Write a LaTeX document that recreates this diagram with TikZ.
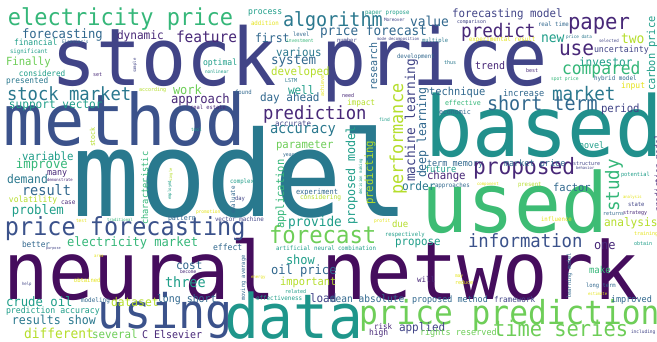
\documentclass[tikz,border=0pt]{standalone}
\usepackage{fontspec}
\usepackage{graphicx}
\newfontfamily\wcfont{DejaVu Sans Mono}
\definecolor{c0}{HTML}{450D5D}
\definecolor{c1}{HTML}{482878}
\definecolor{c2}{HTML}{414487}
\definecolor{cB}{HTML}{3B528B}
\definecolor{c3}{HTML}{31688E}
\definecolor{c4}{HTML}{2A788E}
\definecolor{cM}{HTML}{29798E}
\definecolor{cD}{HTML}{21908C}
\definecolor{cT}{HTML}{1F968B}
\definecolor{c5}{HTML}{1F9E89}
\definecolor{c6}{HTML}{35B779}
\definecolor{cU}{HTML}{3DBC74}
\definecolor{c7}{HTML}{6ECE58}
\definecolor{c8}{HTML}{B5DE2B}
\definecolor{c9}{HTML}{E5E419}
\newcommand\wcsz[1]{\wcfont\fontsize{#1}{#1}\selectfont}
\newcommand\wcst[1]{\scalebox{1}[1.06]{#1}}
\newcommand\wcw[6]{\node[wrd,text=#5,font=\wcsz{#4}] (#1) at (#2,#3) {\wcst{#6}};}
\newcommand\wcv[6]{\node[wrd,rotate=90,text=#5,font=\wcsz{#4}] (#1) at (#2,#3) {\wcst{#6}};}
\begin{document}
\begin{tikzpicture}[x=1pt,y=-1pt,wrd/.style={anchor=base west,inner sep=0pt,outer sep=0pt}]
\fill[white] (0,0) rectangle (657,342);
\useasboundingbox (0,0) rectangle (657,342);
\clip (0,0) rectangle (657,342);
% big words
\wcw{h14}{51}{86}{75}{c2}{stock price}
\wcw{h72}{4}{146}{67}{cB}{method}
\wcw{h84}{72}{217}{112}{cM}{model}
\wcw{h108}{425}{157}{79}{cD}{based}
\wcw{h122}{421}{233}{78}{cU}{used}
\wcw{h138}{3}{300}{75.5}{c0}{neural network}
\wcw{h154}{224}{338}{58}{cT}{data}
\wcw{h139}{97}{328}{45}{cB}{using}
\wcw{h123}{5}{236}{23.5}{cB}{price forecasting}
\wcw{h168}{359}{325}{31.2}{c7}{price prediction}
\wcw{h155}{269}{244}{22.3}{c7}{forecast}
\wcw{h158}{468}{248}{17.3}{cB}{information}
\wcw{h178}{493}{337}{20.4}{c7}{time series}
% top left
\wcw{h1}{8}{26}{22}{c6}{electricity price}
\wcw{h2}{22}{39}{12.2}{c3}{forecasting}
\wcw{h3}{117}{40}{11.1}{c1}{dynamic}
\wcw{h4}{14}{45.5}{8}{c5}{financial}
\wcw{h5}{62}{44}{4.4}{c3}{Elsevier's}
\wcw{h6}{10}{54}{5.7}{c5}{significant}
\wcw{h7}{6}{66}{10.6}{c7}{Finally}
\wcw{h8}{19}{77}{7.7}{c5}{considered}
\wcw{h9}{93}{77}{5}{c1}{set}
\wcw{h10}{6}{84}{7.8}{c4}{presented}
\wcw{h11}{139}{92}{5}{c8}{according}
\wcw{h12}{7}{101}{17.2}{c4}{stock market}
\wcw{h13}{9}{109}{11.1}{c5}{support vector}
% top middle
\wcw{h15}{248}{15}{8.1}{c5}{process}
\wcw{h16}{251}{26}{5.8}{c9}{addition}
\wcw{h17}{283}{27}{18.4}{c4}{algorithm}
\wcw{h18}{176}{43}{14.5}{c1}{feature}
\wcw{h19}{255}{43}{11.5}{c3}{first}
\wcw{h20}{293}{37}{5.5}{c3}{level}
\wcw{h21}{286}{43}{4.6}{c6}{investment}
\wcw{h22}{276}{57}{10.8}{c4}{various}
\wcw{h23}{271}{65}{12.5}{c3}{system}
\wcw{h24}{203}{66}{8.1}{c5}{optimal}
\wcw{h25}{205}{74}{4.4}{c5}{nonlinear}
\wcw{h26}{271}{76}{10.8}{c8}{developed}
\wcw{h27}{285}{83}{5}{c4}{LSTM}
\wcw{h28}{173}{95}{12}{c7}{work}
\wcw{h29}{235}{95}{5.6}{c3}{found}
\wcw{h30}{288}{95}{11}{c5}{well}
\wcw{h31}{171}{104}{12.2}{c1}{approach}
\wcw{h32}{260}{101.5}{11}{c3}{day ahead}
\wcw{h33}{190}{110}{5.4}{c1}{real estate}
\wcw{h34}{263}{120}{17.2}{c1}{prediction}
% top right
\wcw{h35}{365}{15}{5.7}{c5}{paper propose}
\wcw{h36}{384}{22}{4.3}{c2}{Moreover}
\wcw{h37}{410}{27}{12.9}{c3}{value}
\wcw{h38}{452}{18}{10.8}{c2}{forecasting model}
\wcw{h39}{457}{24}{4.8}{c2}{comparison}
\wcw{h40}{461}{38}{17.7}{c1}{predict}
\wcw{h41}{337}{43}{5.5}{c2}{number}
\wcw{h42}{377}{41}{3.9}{c2}{mode decomposition}
\wcw{h43}{422}{43}{5.4}{c4}{multiple}
\wcw{h44}{320}{36}{12.7}{c3}{price forecast}
\wcw{h45}{469}{42}{5.8}{c9}{experimental result}
\wcw{h46}{397}{59}{5.7}{c3}{development}
\wcw{h47}{444}{65}{5}{c4}{thus}
\wcw{h48}{475}{70}{10}{c1}{trend}
\wcw{h49}{429}{96}{10.4}{c3}{technique}
\wcw{h50}{342}{98}{5}{c1}{need}
\wcw{h51}{347}{106}{7.8}{c8}{impact}
\wcw{h52}{445}{106}{6.6}{c6}{effective}
\wcw{h53}{439}{115}{6.6}{c3}{economic}
\wcw{h54}{538}{27}{5.7}{c3}{real time}
\wcw{h55}{568}{30}{20.6}{c1}{paper}
\wcw{h56}{541}{43}{13}{c5}{new}
\wcw{h57}{566}{39}{4.3}{c4}{price data}
\wcw{h58}{621}{44}{13}{c8}{two}
\wcw{h59}{599}{43}{4.1}{c2}{selected}
\wcw{h60}{559}{56}{19.5}{c1}{use}
\wcw{h61}{594}{53}{8.3}{c2}{uncertainty}
\wcw{h62}{526}{73}{5}{c1}{best}
\wcw{h63}{579}{67}{11.1}{c5}{investor}
\wcw{h64}{562}{75}{16.3}{c6}{compared}
\wcw{h65}{551}{81}{4.6}{c6}{spot price}
\wcw{h66}{594}{81}{5.9}{c3}{hybrid model}
\wcw{h67}{621}{89}{8}{c9}{input}
\wcw{h68}{552}{101}{17.6}{c4}{market}
\wcw{h69}{503}{97}{8.6}{c3}{increase}
\wcw{h70}{487}{111}{18.4}{c3}{short term}
\wcw{h71}{601}{113}{10.7}{c2}{period}
% middle left
\wcw{h73}{22}{161}{10.7}{c5}{variable}
\wcw{h74}{16}{169}{12.3}{c6}{improve}
\wcw{h75}{7}{184}{11.3}{c4}{demand}
\wcw{h76}{47}{176}{8.4}{c1}{many}
\wcw{h77}{47}{182}{3.9}{c1}{demonstrate}
\wcw{h78}{22}{196}{13.6}{c3}{result}
\wcw{h79}{9}{203}{8}{c8}{volatility}
\wcw{h80}{61}{205}{6}{c1}{case}
\wcw{h81}{12}{215}{12.3}{c5}{problem}
\wcw{h82}{76}{223}{4.5}{c9}{test}
\wcw{h83}{107}{222}{3.9}{c6}{traditional}
% middle
\wcw{h85}{191}{132}{4.5}{c5}{tool}
\wcw{h86}{275}{127}{7.5}{c2}{accurate}
\wcw{h87}{270}{134}{13.7}{c4}{accuracy}
\wcw{h88}{276}{149}{10.6}{c7}{parameter}
\wcw{h89}{283}{157}{4.8}{c3}{year}
\wcw{h90}{230}{184}{5.7}{c5}{complex}
\wcw{h91}{235}{201}{5.5}{c2}{day}
\wcw{h92}{296}{195}{7}{c3}{experiment}
\wcw{h93}{300}{200}{6.2}{c8}{considering}
\wcw{h94}{196}{214}{4.5}{c9}{promotion}
\wcw{h95}{168}{221}{6.6}{c3}{pattern}
\wcw{h96}{215}{222}{5.8}{c2}{vector machine}
\wcw{h97}{288}{227}{12.8}{c5}{provide}
\wcw{h98}{379}{122}{4.5}{c5}{find}
\wcw{h99}{374}{223}{4.5}{c9}{profit}
\wcw{h100}{392}{228}{9}{c8}{due}
\wcw{h101}{427}{167}{8.5}{c3}{term memory}
\wcw{h102}{425}{173}{8.7}{c5}{future}
\wcw{h103}{427}{180}{10.7}{c1}{change}
\wcw{h104}{402}{191}{11.2}{c4}{order}
\wcw{h105}{435}{188}{5.8}{c3}{approaches}
\wcw{h106}{477}{186}{4}{c9}{component}
\wcw{h107}{473}{175}{21.2}{c1}{proposed}
% middle right
\wcw{h109}{579}{149}{8.4}{c5}{novel}
\wcw{h110}{504}{167}{8.5}{c3}{market price}
\wcw{h111}{573}{166}{5}{c2}{structure}
\wcw{h112}{576}{170}{3.8}{c2}{behavior}
\wcw{h113}{621}{177}{5.3}{c5}{potential}
\wcw{h114}{518}{187}{5.6}{c8}{present}
\wcw{h115}{553}{192}{10.4}{c3}{factor}
\wcw{h116}{623}{199}{3.9}{c9}{analysis}
\wcw{h117}{628}{207}{5.5}{c2}{state}
\wcw{h118}{603}{216}{5}{c3}{returns}
\wcw{h119}{623}{215}{5}{c1}{strategy}
\wcw{h120}{541}{222}{5.7}{c9}{influence}
\wcw{h121}{604}{227}{11.1}{c8}{analysis}
% bottom left
\wcw{h124}{22}{248}{7.8}{c3}{better}
\wcw{h125}{46}{250}{3.5}{c2}{purpose}
\wcw{h126}{67}{247}{12.1}{c6}{electricity market}
\wcw{h127}{94}{258}{4}{c9}{area}
\wcw{h128}{22}{286}{4}{c2}{help}
\wcw{h129}{74}{283}{5.5}{c9}{obtained}
\wcw{h130}{6}{306}{12.3}{c5}{crude oil}
\wcw{h131}{81}{303}{6}{c3}{modeling}
\wcw{h132}{111}{306}{11.3}{c8}{dataset}
\wcw{h133}{6}{313}{8.2}{c5}{prediction accuracy}
\wcw{h134}{12}{325}{11.6}{c4}{results show}
\wcw{h135}{24}{338}{12.9}{c8}{different}
\wcw{h136}{92}{338}{10.8}{c7}{several}
\wcw{h137}{142}{338}{10}{c1}{C Elsevier}
% bottom middle
\wcw{h140}{213}{251}{8.1}{c3}{effect}
\wcw{h141}{276}{251}{5.75}{c5}{artificial neural}
\wcw{h142}{338}{251}{5.75}{c5}{combination}
\wcw{h143}{286}{265}{12}{c5}{show}
\wcw{h144}{176}{270}{11}{c3}{cost}
\wcw{h145}{180}{273}{4.5}{c1}{become}
\wcw{h146}{251}{279}{4}{c9}{energy}
\wcw{h147}{271}{275}{12.1}{c3}{oil price}
\wcw{h148}{165}{288}{13.5}{c5}{three}
\wcw{h149}{280}{286}{10.4}{c8}{important}
\wcw{h150}{157}{302}{9.9}{c3}{long short}
\wcw{h151}{285}{294}{5}{c5}{related}
\wcw{h152}{256}{301}{5.9}{c5}{effectiveness}
\wcw{h153}{310}{303}{11}{c2}{load}
\wcw{h156}{385}{237}{5.5}{c5}{respectively}
\wcw{h157}{395}{246}{10.8}{c5}{propose}
\wcw{h159}{455}{278}{4.5}{c9}{may}
\wcw{h160}{455}{284}{5}{c9}{reduce}
\wcw{h161}{417}{283}{7.5}{c1}{will}
\wcw{h162}{330}{303}{9.5}{c3}{mean absolute}
\wcw{h163}{412}{302}{8.4}{c3}{proposed method}
\wcw{h164}{374}{330}{7.5}{c1}{risk}
\wcw{h165}{399}{331}{11}{c2}{applied}
\wcw{h166}{369}{336}{8}{c1}{high}
\wcw{h167}{420}{335}{8.5}{c7}{rights reserved}
% bottom right
\wcw{h169}{634}{236}{5}{c9}{training}
\wcw{h170}{594}{250}{12}{c1}{one}
\wcw{h171}{634}{246}{5}{c5}{obtain}
\wcw{h172}{589}{273}{9}{c6}{make}
\wcw{h173}{586}{288}{5.5}{c3}{long term}
\wcw{h174}{588}{295}{4}{c9}{estimate}
\wcw{h175}{494}{302}{7.6}{c2}{framework}
\wcw{h176}{611}{302}{8.5}{c3}{improved}
\wcw{h177}{631}{334}{4.5}{c2}{including}
% vertical words
\wcv{v1}{136}{73}{4}{c2}{sample}
\wcv{v2}{324}{97}{5}{c9}{achieve}
\wcv{v3}{377}{91}{10}{c3}{research}
\wcv{v4}{415}{182}{12.8}{c2}{machine learning}
\wcv{v5}{426}{178}{11.6}{c3}{deep learning}
\wcv{v6}{403}{195}{16.8}{c8}{performance}
\wcv{v7}{655}{91}{10.3}{c5}{carbon price}
\wcv{v8}{95}{147}{6.6}{c8}{stock}
\wcv{v9}{148}{225}{8.7}{c6}{characteristic}
\wcv{v10}{284}{229}{10.5}{c6}{application}
\wcv{v11}{172}{182}{3.8}{c8}{single}
\wcv{v12}{171}{200}{4}{c5}{employed}
\wcv{v13}{235}{214}{5.8}{c3}{evaluate}
\wcv{v14}{355}{225}{11.7}{c5}{proposed model}
\wcv{v15}{373}{205}{10.7}{c8}{predicting}
\wcv{v16}{362}{195}{4}{c5}{decision making}
\wcv{v17}{661}{212}{8}{c1}{prediction model}
\wcv{v18}{619}{212}{17.5}{c6}{study}
\wcv{v19}{245}{301}{5.4}{c3}{moving average}
\wcv{v20}{571}{299}{5.4}{c3}{learning model}
\end{tikzpicture}
\end{document}
